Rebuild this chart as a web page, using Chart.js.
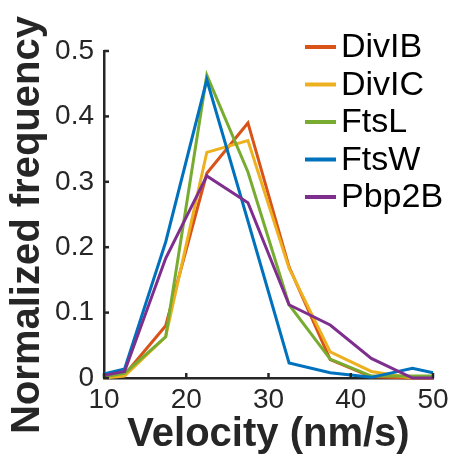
<!DOCTYPE html>
<html>
<head>
<meta charset="utf-8">
<script src="https://cdn.jsdelivr.net/npm/chart.js@4/dist/chart.umd.min.js"></script>
<style>
  html, body { margin: 0; padding: 0; background: #fff; }
  #wrap { width: 451px; height: 456px; }
</style>
</head>
<body>
<div id="wrap"><canvas id="myChart" width="451" height="456"></canvas></div>
<script>
// velocity bins (nm/s) and normalized frequency per protein
var velocity = [10, 12.5, 17.5, 22.5, 27.5, 32.5, 37.5, 42.5, 47.5, 50];
var names = ['DivIB', 'DivIC', 'FtsL', 'FtsW', 'Pbp2B'];
var divIB = [0.002, 0.005, 0.080, 0.313, 0.390, 0.170, 0.028, 0.002, 0.000, 0.000];
var divIC = [0.000, 0.003, 0.063, 0.345, 0.363, 0.168, 0.040, 0.010, 0.000, 0.000];
var ftsL  = [0.002, 0.007, 0.063, 0.463, 0.315, 0.112, 0.029, 0.003, 0.003, 0.003];
var ftsW  = [0.006, 0.014, 0.208, 0.456, 0.240, 0.023, 0.008, 0.001, 0.015, 0.008];
var pbp2B = [0.004, 0.010, 0.183, 0.309, 0.268, 0.112, 0.081, 0.030, 0.000, 0.000];
var xTicks = [10, 20, 30, 40, 50];
var yTicks = [0, 0.1, 0.2, 0.3, 0.4, 0.5];

var series = [divIB, divIC, ftsL, ftsW, pbp2B];
var colors = ['#D95319', '#EDB120', '#77AC30', '#0072BD', '#7E2F8E'];
var axisColor = '#262626';
var fontFamily = "'Liberation Sans', Arial, Helvetica, sans-serif";

var datasets = series.map(function (vals, i) {
    return {
        label: names[i],
        data: vals.map(function (v, j) { return { x: velocity[j], y: v }; }),
        borderColor: colors[i],
        backgroundColor: colors[i],
        borderWidth: 3,
        pointRadius: 0,
        tension: 0,
        clip: false,
        // later series drawn on top
        order: names.length - i
    };
});

// inward tick marks, axis titles and legend
var extras = {
    id: 'extras',
    afterDraw: function (chart) {
        var c = chart.ctx;
        var xs = chart.scales.x, ys = chart.scales.y;
        var area = chart.chartArea;
        c.save();
        c.strokeStyle = axisColor;
        c.lineWidth = 2.5;
        xTicks.forEach(function (t) {
            var px = xs.getPixelForValue(t);
            c.beginPath(); c.moveTo(px, area.bottom); c.lineTo(px, area.bottom - 5); c.stroke();
        });
        yTicks.forEach(function (t) {
            var py = ys.getPixelForValue(t);
            c.beginPath(); c.moveTo(area.left, py); c.lineTo(area.left + 5, py); c.stroke();
        });

        c.fillStyle = axisColor;
        c.font = 'bold 40px ' + fontFamily;
        c.textAlign = 'center';
        c.textBaseline = 'middle';
        c.fillText('Velocity (nm/s)', (area.left + area.right) / 2, 435);
        c.save();
        c.translate(28, 225);
        c.rotate(-Math.PI / 2);
        c.fillText('Normalized frequency', 0, 0);
        c.restore();

        c.font = '34px ' + fontFamily;
        c.textAlign = 'left';
        c.fillStyle = '#000';
        chart.data.datasets.forEach(function (ds, i) {
            var y = 47 + i * 37.5;
            c.strokeStyle = ds.borderColor;
            c.lineWidth = 4;
            c.beginPath(); c.moveTo(305, y); c.lineTo(336, y); c.stroke();
            c.fillText(ds.label, 341, y + 1);
        });
        c.restore();
    }
};

var ctx = document.getElementById('myChart').getContext('2d');
var chart = new Chart(ctx, {
    type: 'line',
    data: { datasets: datasets },
    options: {
        responsive: false,
        animation: false,
        layout: { padding: { top: 51, right: 18, left: 0, bottom: 0 } },
        plugins: { legend: { display: false }, tooltip: { enabled: false } },
        scales: {
            x: {
                type: 'linear',
                min: 10, max: 50,
                afterFit: function (s) { s.height = 78; s.paddingRight = 0; s.paddingLeft = 0; },
                afterBuildTicks: function (s) { s.ticks = xTicks.map(function (v) { return { value: v }; }); },
                grid: { display: false, drawTicks: false },
                border: { display: true, color: axisColor, width: 2.5 },
                ticks: { color: axisColor, font: { family: fontFamily, size: 28 }, padding: 5, maxRotation: 0 }
            },
            y: {
                min: 0, max: 0.5,
                afterFit: function (s) { s.width = 104; s.paddingTop = 0; s.paddingBottom = 0; },
                afterBuildTicks: function (s) { s.ticks = yTicks.map(function (v) { return { value: v }; }); },
                grid: { display: false, drawTicks: false },
                border: { display: true, color: axisColor, width: 2.5 },
                ticks: {
                    color: axisColor, font: { family: fontFamily, size: 28 }, padding: 10,
                    callback: function (v) { return v; }
                }
            }
        }
    },
    plugins: [extras]
});
</script>
</body>
</html>
